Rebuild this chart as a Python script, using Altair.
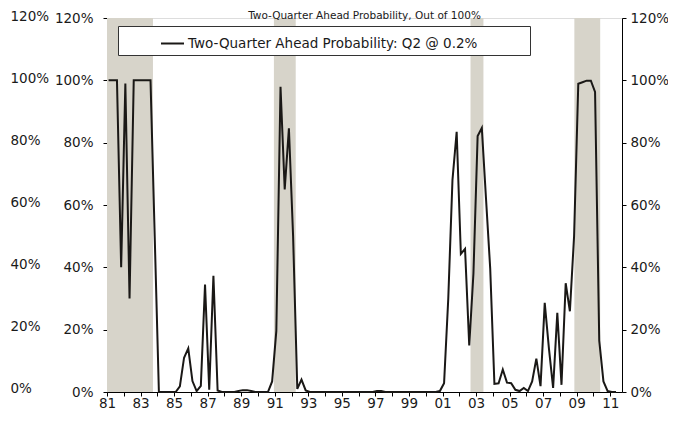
import altair as alt
import pandas as pd

title_text = "Two-Quarter Ahead Probability, Out of 100%"
series_name = "Two-Quarter Ahead Probability: Q2 @ 0.2%"

# quarterly values, 1981Q1 .. 2011Q2 (percent)
prob = [
    100, 100, 100, 40, 99, 30, 100, 100, 100, 100,      # i0-9
    100, 50, 0, 0, 0, 0, 0, 1.8, 11, 14,                # i10-19
    3.5, 0.3, 2, 34.5, 0.7, 37.3, 0.5, 0, 0, 0,          # i20-29
    0, 0.3, 0.6, 0.6, 0.3, 0, 0, 0, 0, 3.4,              # i30-39
    19.6, 97.9, 65, 84.6, 50, 1, 4, 0.5, 0, 0,           # i40-49
    0, 0, 0, 0, 0, 0, 0, 0, 0, 0,                        # i50-59
    0, 0, 0, 0, 0.3, 0.3, 0, 0, 0, 0,                    # i60-69
    0, 0, 0, 0, 0, 0, 0, 0, 0, 0.3,                      # i70-79
    2.8, 30, 68, 83.5, 44.3, 45.9, 14.9, 38, 82.1, 84.7, # i80-89
    62, 39.6, 2.6, 2.8, 7.2, 3, 2.8, 0.7, 0.3, 1.3,      # i90-99
    0.3, 3.4, 10.7, 1.9, 28.6, 14, 1.3, 25.4, 2.3, 34.9, # i100-109
    25.9, 50, 98.9, 99.4, 99.9, 99.9, 96.3, 16.5, 3.4, 0.3,  # i110-119
    0, 0,                                                # i120-121
]
start_year = 1981

band_start = [1981.0, 1990.95, 2002.67, 2008.86]
band_end = [1983.74, 1992.25, 2003.44, 2010.40]

y_ticks = [0, 20, 40, 60, 80, 100, 120]
x_tick_years = list(range(1981, 2012))

df = pd.DataFrame({
    "t": [start_year + (i + 0.375) / 4 for i in range(len(prob))],
    "p": prob,
    "s": [series_name] * len(prob),
})
bands = pd.DataFrame({"x0": band_start, "x1": band_end})

FONT = "DejaVu Sans"
FS = 13.5
TXT = "#1a1a1a"
W, H = 515, 374

xscale = alt.Scale(domain=[1981, 2011.7], nice=False, zero=False)
x_axis = alt.Axis(
    values=x_tick_years, title=None, grid=False,
    labelExpr="datum.value % 2 == 1 ? substring(toString(datum.value), 2, 4) : ''",
    tickSize=4, labelPadding=0, labelFont=FONT, labelFontSize=FS, labelColor=TXT,
    domainColor="#000", tickColor="#000", labelFlush=False, labelOverlap=False,
)

def y_axis(orient, offset=0, pad=10, domain=True, ticks=True, align=None):
    kw = dict(
        orient=orient, offset=offset, values=y_ticks, title=None, grid=False,
        labelExpr="datum.value + '%'", tickSize=4 if ticks else 0, ticks=ticks,
        labelPadding=pad, labelFont=FONT, labelFontSize=FS, labelColor=TXT,
        domain=domain, domainColor="#000", tickColor="#000",
        labelFlush=False, labelOverlap=False,
    )
    if align:
        kw["labelAlign"] = align
    return alt.Axis(**kw)

band_layer = alt.Chart(bands).mark_rect(color="#D7D4CA").encode(
    x=alt.X("x0:Q", scale=xscale, axis=x_axis),
    x2="x1:Q",
)

# widen the legend box to the right (the zero-width space keeps the padding from being trimmed)
pad_spaces = "\u00a0" * 11 + "\u200b"
line_layer = alt.Chart(df).mark_line(strokeWidth=2).encode(
    x=alt.X("t:Q", scale=xscale, axis=x_axis),
    y=alt.Y("p:Q", scale=alt.Scale(domain=[0, 120], nice=False), axis=y_axis("left")),
    stroke=alt.Stroke(
        "s:N", scale=alt.Scale(range=["#1a1816"]),
        legend=alt.Legend(
            orient="none", legendX=11, legendY=8, title=None,
            strokeColor="#333", fillColor="white", padding=5,
            symbolType="stroke", symbolSize=529, symbolStrokeWidth=2,
            symbolOffset=37, labelOffset=3, labelLimit=700,
            labelFont=FONT, labelFontSize=FS, labelColor=TXT,
            labelExpr="datum.label + '" + pad_spaces + "'",
        ),
    ),
)

right_layer = alt.Chart(df).mark_line(opacity=0).encode(
    x=alt.X("t:Q", scale=xscale, axis=x_axis),
    y=alt.Y("p:Q", scale=alt.Scale(domain=[0, 120], nice=False), axis=y_axis("right", pad=4)),
)

# faint duplicate axis at the far left edge of the picture
ghost_layer = alt.Chart(df).mark_line(opacity=0).encode(
    x=alt.X("t:Q", scale=xscale, axis=x_axis),
    y=alt.Y("p:Q", scale=alt.Scale(domain=[0, 120], range=[370, -2], nice=False),
            axis=y_axis("left", offset=97, pad=0, domain=False, ticks=False, align="left")),
)

chart = alt.layer(band_layer, line_layer, right_layer, ghost_layer).resolve_scale(
    y="independent"
).properties(
    width=W, height=H,
    autosize=alt.AutoSizeParams(type="none"),
    padding={"left": 99, "top": 10, "right": 46, "bottom": 18},
    title=alt.TitleParams(
        title_text, font=FONT, fontSize=10.5, fontWeight="normal", color=TXT,
        anchor="middle", frame="group", baseline="top", offset=-12,
    ),
).configure_view(stroke="#000", strokeWidth=1).configure(background="white")

chart.save("out.html", embed_options={"renderer": "svg", "actions": False})
